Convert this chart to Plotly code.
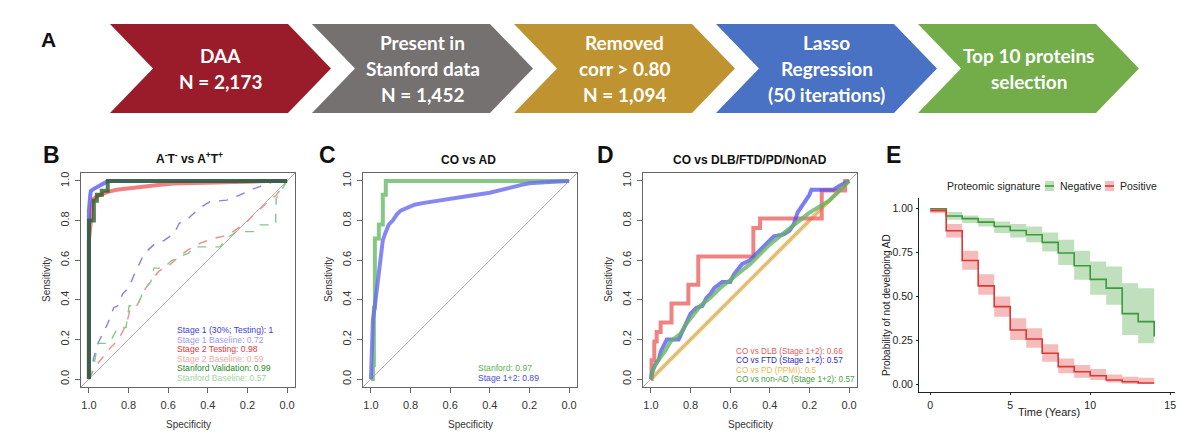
import plotly.graph_objects as go

W, H = 1200, 437

# ---- panel A: pipeline steps ----
step_lines = [
    ["DAA", "N = 2,173"],
    ["Present in", "Stanford data", "N = 1,452"],
    ["Removed", "corr > 0.80", "N = 1,094"],
    ["Lasso", "Regression", "(50 iterations)"],
    ["Top 10 proteins", "selection"],
]
step_colors = ["#9a1c2b", "#767171", "#bf9430", "#4a72c4", "#72ad4a"]

# ---- panel B: A-T- vs A+T+ ----
s1_spec = [1, 1, 0.993, 0.99, 0.975, 0.96, 0.94, 0.92, 0.905, 0.85, 0]
s1_sens = [0, 0.85, 0.93, 0.95, 0.96, 0.97, 0.98, 0.99, 1.0, 1.0, 1.0]

s2_spec = [1, 1, 0.99, 0.985, 0.975, 0.955, 0.93, 0.905, 0.86, 0.82, 0.74, 0.65,
           0.57, 0.4, 0.3, 0.2, 0.1, 0]
s2_sens = [0, 0.7, 0.8, 0.88, 0.91, 0.925, 0.935, 0.945, 0.955, 0.96, 0.973, 0.98,
           0.987, 0.993, 0.995, 0.997, 0.999, 1.0]

val_spec = [1, 1, 0.975, 0.975, 0.96, 0.96, 0.935, 0.935, 0.905, 0.905, 0]
val_sens = [0, 0.8, 0.8, 0.9, 0.9, 0.93, 0.93, 0.95, 0.95, 1.0, 1.0]

b1_spec = [1, 0.975, 0.955, 0.93, 0.905, 0.875, 0.855, 0.83, 0.8, 0.77, 0.745, 0.72,
           0.67, 0.62, 0.57, 0.545, 0.5, 0.445, 0.39, 0.305, 0.24, 0.17, 0.12, 0.07, 0]
b1_sens = [0, 0.11, 0.18, 0.23, 0.28, 0.36, 0.37, 0.43, 0.46, 0.53, 0.585, 0.635,
           0.68, 0.70, 0.735, 0.785, 0.81, 0.86, 0.895, 0.903, 0.928, 0.96, 0.978, 0.995, 1.0]

b2_spec = [1, 0.97, 0.93, 0.89, 0.85, 0.81, 0.79, 0.755, 0.72, 0.69, 0.647, 0.6,
           0.555, 0.5, 0.438, 0.37, 0.297, 0.205, 0.17, 0.105, 0.055, 0]
b2_sens = [0, 0.06, 0.11, 0.16, 0.2, 0.28, 0.36, 0.375, 0.45, 0.49, 0.545, 0.57,
           0.61, 0.652, 0.686, 0.71, 0.727, 0.79, 0.828, 0.886, 0.928, 1.0]

b3_spec = [1, 0.98, 0.955, 0.897, 0.855, 0.813, 0.797, 0.755, 0.722, 0.688, 0.672,
           0.622, 0.588, 0.538, 0.497, 0.472, 0.338, 0.305, 0.255, 0.163, 0.138,
           0.058, 0.055, 0]
b3_sens = [0, 0.04, 0.18, 0.18, 0.26, 0.26, 0.37, 0.37, 0.45, 0.49, 0.56,
           0.56, 0.594, 0.62, 0.635, 0.667, 0.667, 0.71, 0.744, 0.744, 0.778,
           0.778, 0.91, 1.0]

b_labels = ["Stage 1 (30%; Testing): 1", "Stage 1 Baseline: 0.72", "Stage 2 Testing: 0.98",
            "Stage 2 Baseline: 0.59", "Stanford Validation: 0.99", "Stanford Baseline: 0.57"]
b_label_colors = ["#3c3cd6", "#9c9cf0", "#e03a3a", "#f2a8a8", "#2a8a2a", "#a3d3a0"]

# ---- panel C: CO vs AD ----
cs_spec = [1, 0.99, 0.99, 0.985, 0.985, 0.98, 0.98, 0.96, 0.96, 0.94, 0.94, 0.925, 0.925, 0]
cs_sens = [0, 0, 0.07, 0.07, 0.36, 0.36, 0.71, 0.71, 0.78, 0.78, 0.93, 0.93, 1.0, 1.0]

cb_spec = [1, 0.995, 0.99, 0.98, 0.97, 0.96, 0.95, 0.94, 0.93, 0.91, 0.89, 0.87, 0.85,
           0.82, 0.78, 0.74, 0.7, 0.6, 0.5, 0.4, 0.33, 0.28, 0.24, 0.2, 0.1, 0]
cb_sens = [0, 0.1, 0.3, 0.37, 0.45, 0.57, 0.65, 0.7, 0.73, 0.78, 0.8, 0.83, 0.85,
           0.865, 0.88, 0.888, 0.895, 0.91, 0.925, 0.94, 0.955, 0.97, 0.98, 0.988, 0.995, 1.0]

c_labels = ["Stanford: 0.97", "Stage 1+2: 0.89"]
c_label_colors = ["#5cb25c", "#4a4ae0"]

# ---- panel D: CO vs DLB/FTD/PD/NonAD ----
dlb_spec = [1, 0.997, 0.997, 0.983, 0.983, 0.971, 0.971, 0.951, 0.951, 0.896, 0.896,
            0.811, 0.811, 0.761, 0.761, 0.483, 0.483, 0.449, 0.449, 0.138, 0.138, 0.02, 0.02, 0]
dlb_sens = [0, 0, 0.095, 0.095, 0.19, 0.19, 0.238, 0.238, 0.286, 0.286, 0.381,
            0.381, 0.476, 0.476, 0.619, 0.619, 0.762, 0.762, 0.81, 0.81, 0.952, 0.952, 1.0, 1.0]

ftd_spec = [1, 0.995, 0.98, 0.96, 0.95, 0.935, 0.92, 0.86, 0.84, 0.82, 0.8, 0.77, 0.74,
            0.72, 0.7, 0.68, 0.64, 0.6, 0.58, 0.54, 0.5, 0.47, 0.44, 0.41, 0.38, 0.33,
            0.3, 0.28, 0.26, 0.24, 0.22, 0.2, 0.19, 0.08, 0.05, 0.02, 0.01, 0]
ftd_sens = [0, 0.03, 0.07, 0.1, 0.14, 0.17, 0.2, 0.2, 0.24, 0.29, 0.33, 0.36, 0.37,
            0.41, 0.43, 0.46, 0.49, 0.49, 0.53, 0.58, 0.6, 0.63, 0.66, 0.69, 0.72, 0.73,
            0.75, 0.78, 0.84, 0.87, 0.9, 0.93, 0.955, 0.955, 0.975, 0.99, 1.0, 1.0]

pd_spec = [1, 0]
pd_sens = [0, 1]

nonad_spec = [1, 0.99, 0.96, 0.93, 0.9, 0.85, 0.82, 0.78, 0.75, 0.7, 0.65, 0.6, 0.55,
              0.5, 0.45, 0.4, 0.35, 0.3, 0.25, 0.2, 0.15, 0.1, 0.05, 0.02, 0]
nonad_sens = [0, 0.05, 0.1, 0.14, 0.19, 0.23, 0.28, 0.33, 0.37, 0.41, 0.46, 0.5, 0.54,
              0.58, 0.63, 0.68, 0.72, 0.76, 0.8, 0.84, 0.87, 0.9, 0.95, 0.98, 1.0]

d_labels = ["CO vs DLB (Stage 1+2): 0.66", "CO vs FTD (Stage 1+2): 0.57",
            "CO vs PD (PPMI): 0.5", "CO vs non-AD (Stage 1+2): 0.57"]
d_label_colors = ["#e05a5a", "#2a2ac8", "#efb84a", "#44a044"]

# ---- panel E: survival ----
years = list(range(15))
neg_surv = [0.995, 0.955, 0.94, 0.92, 0.895, 0.872, 0.848, 0.805, 0.745, 0.672, 0.595, 0.545, 0.40, 0.355, 0.27]
neg_upper = [1.0, 0.977, 0.958, 0.943, 0.924, 0.909, 0.895, 0.861, 0.82, 0.757, 0.696, 0.668, 0.573, 0.545, 0.545]
neg_lower = [0.99, 0.934, 0.915, 0.895, 0.858, 0.833, 0.806, 0.753, 0.677, 0.592, 0.507, 0.45, 0.279, 0.232, 0.232]
pos_surv = [0.985, 0.871, 0.702, 0.558, 0.44, 0.307, 0.256, 0.175, 0.099, 0.07, 0.047, 0.023, 0.013, 0.006, 0.006]
pos_upper = [1.0, 0.909, 0.757, 0.624, 0.497, 0.374, 0.317, 0.226, 0.146, 0.108, 0.085, 0.055, 0.042, 0.036, 0.036]
pos_lower = [0.97, 0.833, 0.649, 0.507, 0.383, 0.25, 0.207, 0.127, 0.061, 0.036, 0.023, 0.009, 0.0, 0.0, 0.0]

diag = [1.04, -0.04]
diag_y = [-0.04, 1.04]

FONT = "Liberation Sans"


def px(x):
    return x / W


def py(y):
    return 1 - y / H


fig = go.Figure()


def roc(x, y, color, width, ax, dash=None):
    fig.add_trace(go.Scatter(x=x, y=y, mode="lines", xaxis="x" + ax, yaxis="y" + ax,
                             line=dict(color=color, width=width, dash=dash),
                             hoverinfo="skip"))


# B
roc(diag, diag_y, "#b5b5b5", 1, "")
roc(b1_spec, b1_sens, "#8080f0", 1.4, "", "dash")
roc(b2_spec, b2_sens, "#f08c8c", 1.4, "", "dash")
roc(b3_spec, b3_sens, "#86c886", 1.4, "", "dash")
roc(s2_spec, s2_sens, "rgba(236,95,95,0.8)", 4, "")
roc(s1_spec, s1_sens, "rgba(80,80,240,0.75)", 4, "")
roc(val_spec, val_sens, "rgba(45,95,40,0.8)", 4, "")

# C
roc(diag, diag_y, "#b5b5b5", 1, "2")
roc(cs_spec, cs_sens, "rgba(110,190,110,0.85)", 4, "2")
roc(cb_spec, cb_sens, "rgba(105,105,240,0.8)", 4, "2")

# D
roc(pd_spec, pd_sens, "rgba(240,185,80,0.85)", 4, "3")
roc(diag, diag_y, "#b5b5b5", 1, "3")
roc(dlb_spec, dlb_sens, "rgba(232,100,100,0.8)", 4, "3")
roc(ftd_spec, ftd_sens, "rgba(80,80,240,0.75)", 4, "3")
roc(nonad_spec, nonad_sens, "rgba(100,180,100,0.8)", 4, "3")

# E ribbons and lines
for surv, up, lo, col, fill in [
    (neg_surv, neg_upper, neg_lower, "#3b9b3b", "rgba(90,170,80,0.38)"),
    (pos_surv, pos_upper, pos_lower, "#e03535", "rgba(230,80,80,0.38)"),
]:
    fig.add_trace(go.Scatter(x=years, y=lo, mode="lines", xaxis="x4", yaxis="y4",
                             line=dict(width=0, shape="hv"), hoverinfo="skip"))
    fig.add_trace(go.Scatter(x=years, y=up, mode="lines", xaxis="x4", yaxis="y4",
                             line=dict(width=0, shape="hv"), fill="tonexty",
                             fillcolor=fill, hoverinfo="skip"))
    fig.add_trace(go.Scatter(x=years, y=surv, mode="lines", xaxis="x4", yaxis="y4",
                             line=dict(color=col, width=1.6, shape="hv"),
                             hoverinfo="skip"))

# axes
roc_ticks = [0, 0.2, 0.4, 0.6, 0.8, 1.0]
roc_text = ["%.1f" % v for v in roc_ticks]
roc_axis = dict(showline=True, mirror=True, linecolor="#666", linewidth=1, ticks="outside",
                ticklen=5, tickcolor="#666", showgrid=False, zeroline=False,
                tickvals=roc_ticks, ticktext=roc_text,
                tickfont=dict(family=FONT, size=11, color="#333"))

boxes = {"": 73, "2": 355, "3": 635}
ydom = [py(379), py(165)]
layout_axes = {}
for ax, left in boxes.items():
    layout_axes["xaxis" + ax] = dict(roc_axis, domain=[px(left), px(left + 214)],
                                     range=[1.04, -0.04], anchor="y" + ax,
                                     ticklabelstandoff=3)
    layout_axes["yaxis" + ax] = dict(roc_axis, domain=ydom, range=[-0.04, 1.04],
                                     anchor="x" + ax, tickangle=-90, ticklabelstandoff=2)

e_axis = dict(showline=True, linecolor="#222", linewidth=1, ticks="outside", ticklen=2,
              tickcolor="#222", showgrid=False, zeroline=False,
              tickfont=dict(family=FONT, size=10.5, color="#222"))
layout_axes["xaxis4"] = dict(e_axis, domain=[px(911), px(1167)], range=[-0.7, 15.3],
                             anchor="y4", tickvals=[0, 5, 10, 15], ticklabelstandoff=1)
layout_axes["yaxis4"] = dict(e_axis, domain=[py(384), py(190)], range=[-0.045, 1.057],
                             anchor="x4", tickvals=[0, 0.25, 0.5, 0.75, 1.0],
                             ticktext=["0.00", "0.25", "0.50", "0.75", "1.00"],
                             ticklabelstandoff=1)

fig.update_layout(**layout_axes)

shapes = []
annotations = []


def text(x, y, s, size, color="#222", bold=False, anchor="center", angle=0, family=FONT):
    annotations.append(dict(x=px(x), y=py(y), xref="paper", yref="paper", text=s,
                            showarrow=False, xanchor=anchor, yanchor="middle",
                            textangle=angle,
                            font=dict(family=family, size=size, color=color,
                                      weight="bold" if bold else "normal")))


# chevrons
top, bot, d, w = 16, 105, 43, 221
mid = (top + bot) / 2
for i, (lines, col) in enumerate(zip(step_lines, step_colors)):
    x0 = 102 + 202 * i
    pts = [(x0, top), (x0 + w - d, top), (x0 + w, mid), (x0 + w - d, bot), (x0, bot), (x0 + d, mid)]
    path = "M " + " L ".join("%.5f,%.5f" % (px(a), py(b)) for a, b in pts) + " Z"
    shapes.append(dict(type="path", path=path, xref="paper", yref="paper",
                       fillcolor=col, line=dict(width=0)))
    n = len(lines)
    for j, s in enumerate(lines):
        text(x0 + w / 2, mid + (j - (n - 1) / 2) * 26, s, 19, "white", True,
             family="Lato")

# panel letters
text(40, 32, "A", 21, "#111", True)
for lab, x in [("B", 43), ("C", 319), ("D", 597), ("E", 885)]:
    text(x, 147, lab, 23, "#111", True)

# ROC titles and axis labels
text(181, 150, "A<sup>-</sup>T<sup>-</sup> vs A<sup>+</sup>T<sup>+</sup>", 12, "#111", True)
text(460, 152, "CO vs AD", 12, "#111", True)
text(742, 152, "CO vs DLB/FTD/PD/NonAD", 12, "#111", True)
for left in boxes.values():
    text(left + 107, 416, "Specificity", 10, "#333")
    text(left - 35, 272, "Sensitivity", 10, "#333", angle=-90)

for k, (s, c) in enumerate(zip(b_labels, b_label_colors)):
    text(167, 322 + k * 9.6, s, 8.6, c, anchor="left")
for k, (s, c) in enumerate(zip(c_labels, c_label_colors)):
    text(468, 360 + k * 9.6, s, 8.6, c, anchor="left")
for k, (s, c) in enumerate(zip(d_labels, d_label_colors)):
    text(726, 343 + k * 9.6, s, 8.2, c, anchor="left")

# panel E labels and legend
text(878, 297, "Probability of not developing AD", 10, "#222", angle=-90)
text(1041, 404, "Time (Years)", 11, "#222")
text(937, 178, "Proteomic signature", 10.5, "#222", anchor="left")
for kx, lab, col, fill in [(1037, "Negative", "#3b9b3b", "rgba(90,170,80,0.38)"),
                           (1097, "Positive", "#e03535", "rgba(230,80,80,0.38)")]:
    shapes.append(dict(type="rect", xref="paper", yref="paper", x0=px(kx), x1=px(kx + 9),
                       y0=py(183), y1=py(173), fillcolor=fill, line=dict(width=0)))
    shapes.append(dict(type="line", xref="paper", yref="paper", x0=px(kx), x1=px(kx + 9),
                       y0=py(178), y1=py(178), line=dict(color=col, width=1.6)))
    text(kx + 13, 178, lab, 10.5, "#222", anchor="left")

fig.update_layout(width=W, height=H, margin=dict(l=0, r=0, t=0, b=0), showlegend=False,
                  plot_bgcolor="white", paper_bgcolor="white",
                  shapes=shapes, annotations=annotations)

fig.write_html("out.html")
